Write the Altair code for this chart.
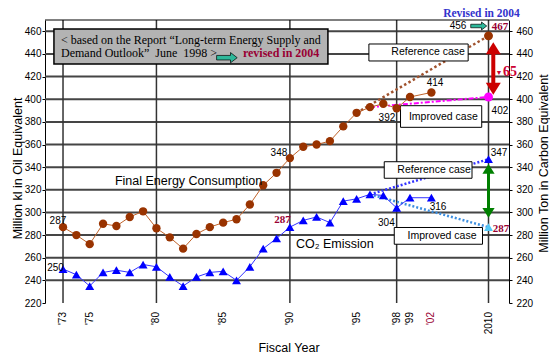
import altair as alt
import pandas as pd

# ---------------- data ----------------
hist_years = list(range(1973, 2000)) + [2002]
fec_values = [287, 280, 272, 290, 288, 296, 301, 286, 278, 268, 281, 287, 291, 294,
              307, 324, 335, 348, 358, 360, 363, 376, 388, 393, 396, 392, 402, 406]
co2_values = [250, 245, 235, 247, 249, 247, 254, 252, 243, 235, 243, 247, 248, 240,
              252, 268, 277, 287, 293, 296, 291, 310, 312, 316, 315, 304, 313, 313]

proj_series = ["fec_ref", "fec_imp", "co2_ref", "co2_imp"]
proj_start_year = [1995, 1996, 1996, 1996]
proj_start_value = [388, 393, 316, 316]
proj_end_year = 2010
proj_end_value = [456, 402, 347, 287]

grid_values = [240, 260, 280, 300, 320, 340, 360, 380, 400, 420, 440, 460]
vgrid_years = [1973, 1980, 1990, 1998, 2010]
y_ticks = [220, 240, 260, 280, 300, 320, 340, 360, 380, 400, 420, 440, 460]
tick_years = [1973, 1975, 1980, 1985, 1990, 1995, 1998, 1999, 2002, 2010]
tick_labels = ["'73", "'75", "'80", "'85", "'90", "'95", "'98", "'99", "'02", "2010"]
tick_colors = ["black"] * 8 + ["#990033", "black"]

# annotation anchors in data coordinates (year, value)
num_text = ["287", "250", "348", "392", "414", "402", "347", "304", "316", "456"]
num_year = [1972.62, 1972.44, 1989.18, 1997.27, 2002.5, 2011.6, 2011.47, 1997.23, 2002.92, 2005.73]
num_value = [292.7, 250.9, 352.2, 383.2, 414.1, 389.9, 352.2, 290.4, 305.0, 464.7]

red_text = ["287", "287", "467"]
red_year = [1989.44, 2011.76, 2011.6]
red_value = [293.3, 285.0, 464.2]

case_text = ["Reference case", "Improved case", "Reference case", "Improved case"]
case_x1 = [1995.92, 1998.29, 1997.07, 1997.82]
case_x2 = [2007.15, 2009.05, 2007.69, 2009.16]
case_v1 = [433.8, 375.2, 330.2, 271.9]
case_v2 = [448.8, 394.3, 344.8, 286.7]

# ---------------- tables ----------------
fec_df = pd.DataFrame({"year": hist_years, "value": fec_values})
co2_df = pd.DataFrame({"year": hist_years, "value": co2_values})
proj_rows = []
for s, y0, v0, v1 in zip(proj_series, proj_start_year, proj_start_value, proj_end_value):
    proj_rows.append({"series": s, "year": y0, "value": v0})
    proj_rows.append({"series": s, "year": proj_end_year, "value": v1})
proj_df = pd.DataFrame(proj_rows)
end_df = pd.DataFrame({
    "year": [proj_end_year] * 4,
    "value": proj_end_value,
    "shape": ["circle", "circle", "triangle-up", "triangle-up"],
    "col": ["#993300", "#ff00ff", "#0000ff", "#55c8f5"],
})
tick_df = pd.DataFrame({"year": tick_years, "label": tick_labels, "col": tick_colors})

xs = alt.Scale(domain=[1971.65, 1999, 2010, 2012.87], range=[0, 365, 443.5, 464],
               nice=False, zero=False)
ys = alt.Scale(domain=[220, 470], nice=False, zero=False)

SANS = "Liberation Sans"
SERIF = "Liberation Serif"


def X(f):
    return alt.X(f, type="quantitative", scale=xs, axis=None)


def Y(f):
    return alt.Y(f, type="quantitative", scale=ys, axis=None)


x_axis = alt.Axis(values=tick_years, labels=False, ticks=False, grid=False,
                  domainColor="black", domainDash=[1, 1], title=None)

left_axis = alt.Axis(values=y_ticks, orient="left", tickSize=3, labelPadding=1,
                     labelFont=SANS, labelFontSize=10, grid=False, domainColor="black",
                     tickColor="black", title="Million kl in Oil Equivalent",
                     titleFont=SANS, titleFontSize=12.5, titleFontWeight="normal",
                     titleAngle=270, titleX=-28, titleY=148, titleAlign="center",
                     titleBaseline="middle")

right_axis = alt.Axis(values=y_ticks, orient="right", tickSize=3, labelPadding=4,
                      labelFont=SANS, labelFontSize=10, grid=False, domainColor="black",
                      tickColor="black", title="Million Ton in Carbon Equivalent",
                      titleFont=SANS, titleFontSize=12.5, titleFontWeight="normal",
                      titleAngle=270, titleX=34, titleY=143, titleAlign="center",
                      titleBaseline="middle")

layers = []

# grid
layers.append(alt.Chart(pd.DataFrame({"v": grid_values})).mark_rule(
    color="#454545", strokeWidth=2).encode(y=Y("v")))
layers.append(alt.Chart(pd.DataFrame({"yr": vgrid_years})).mark_rule(
    color="#333333", strokeWidth=1.5).encode(x=X("yr")))
layers.append(alt.Chart(pd.DataFrame({"a": [0]})).mark_rule(
    color="black", strokeWidth=1).encode(y=alt.value(0)))

# projection lines
proj_style = {
    "fec_ref": dict(color="#a0522d", strokeWidth=2.5, strokeDash=[2.5, 2.5]),
    "fec_imp": dict(color="#ff00ff", strokeWidth=2, strokeDash=[5, 2, 2, 2]),
    "co2_ref": dict(color="#3333ff", strokeWidth=2.5, strokeDash=[2, 2]),
    "co2_imp": dict(color="#3d8fe0", strokeWidth=2.5, strokeDash=[2, 2]),
}
for s in proj_series:
    layers.append(alt.Chart(proj_df[proj_df.series == s]).mark_line(**proj_style[s]).encode(
        x=X("year"), y=Y("value")))

# annotation boxes
layers.append(alt.Chart(pd.DataFrame({"x1": [1972.32], "x2": [1992.85], "v1": [431.1], "v2": [462.05]}))
              .mark_rect(fill="#b3b3b3", stroke="black", strokeWidth=1.5)
              .encode(x=X("x1"), x2="x2", y=Y("v1"), y2="v2"))
case_df = pd.DataFrame({"text": case_text, "x1": case_x1, "x2": case_x2, "v1": case_v1, "v2": case_v2})
case_df["xm"] = (case_df.x1 + case_df.x2) / 2
case_df["vm"] = (case_df.v1 + case_df.v2) / 2
layers.append(alt.Chart(case_df).mark_rect(fill="white", stroke="black", strokeWidth=1)
              .encode(x=X("x1"), x2="x2", y=Y("v1"), y2="v2"))
layers.append(alt.Chart(case_df).mark_text(font=SANS, fontSize=10.5, color="black",
                                           align="center", baseline="middle")
              .encode(x=X("xm"), y=Y("vm"), text="text"))

# historical series
layers.append(alt.Chart(fec_df).mark_line(color="#c0632b", strokeWidth=1).encode(
    x=alt.X("year", type="quantitative", scale=xs, axis=x_axis),
    y=alt.Y("value", type="quantitative", scale=ys, axis=left_axis)))
layers.append(alt.Chart(fec_df).mark_point(shape="circle", filled=True, size=70,
                                           color="#993300", opacity=1).encode(
    x=X("year"), y=Y("value")))
layers.append(alt.Chart(co2_df).mark_line(color="#3333ff", strokeWidth=1).encode(
    x=X("year"),
    y=alt.Y("value", type="quantitative", scale=ys, axis=right_axis)))
layers.append(alt.Chart(co2_df).mark_point(shape="triangle-up", filled=True, size=80,
                                           color="#0000ff", opacity=1).encode(
    x=X("year"), y=Y("value")))

# 2010 outlook points
layers.append(alt.Chart(end_df).mark_point(filled=True, size=80, opacity=1).encode(
    x=X("year"), y=Y("value"),
    shape=alt.Shape("shape:N", scale=None),
    color=alt.Color("col:N", scale=None)))

# arrows
up_head = "M0,-0.8L1,0.8L-1,0.8Z"
down_head = "M0,0.8L1,-0.8L-1,-0.8Z"
block_arrow = "M-1,-0.22L0.35,-0.22L0.35,-0.5L1,0L0.35,0.5L0.35,0.22L-1,0.22Z"

layers.append(alt.Chart(pd.DataFrame({"x": [2010.67], "v1": [446], "v2": [408]}))
              .mark_rule(color="#cc0000", strokeWidth=4).encode(x=X("x"), y=Y("v1"), y2="v2"))
layers.append(alt.Chart(pd.DataFrame({"x": [2010.67], "v": [445.1]}))
              .mark_point(shape=up_head, filled=True, size=225, color="#cc0000", opacity=1)
              .encode(x=X("x"), y=Y("v")))
layers.append(alt.Chart(pd.DataFrame({"x": [2010.67], "v": [409.2]}))
              .mark_point(shape=down_head, filled=True, size=225, color="#cc0000", opacity=1)
              .encode(x=X("x"), y=Y("v")))

layers.append(alt.Chart(pd.DataFrame({"x": [2010.0], "v1": [338], "v2": [300]}))
              .mark_rule(color="#008000", strokeWidth=3).encode(x=X("x"), y=Y("v1"), y2="v2"))
layers.append(alt.Chart(pd.DataFrame({"x": [2010.0], "v": [338.4]}))
              .mark_point(shape=up_head, filled=True, size=150, color="#008000", opacity=1)
              .encode(x=X("x"), y=Y("v")))
layers.append(alt.Chart(pd.DataFrame({"x": [2010.0], "v": [299.6]}))
              .mark_point(shape=down_head, filled=True, size=150, color="#008000", opacity=1)
              .encode(x=X("x"), y=Y("v")))

layers.append(alt.Chart(pd.DataFrame({"x": [1985.28, 2008.63], "v": [436.7, 464.7], "s": [424, 256]}))
              .mark_point(shape=block_arrow, filled=True, fill="#2db89a", stroke="black",
                          strokeWidth=0.7, opacity=1)
              .encode(x=X("x"), y=Y("v"), size=alt.Size("s:Q", scale=None)))

# x tick labels and x title
layers.append(alt.Chart(tick_df).mark_text(font=SANS, fontSize=10, angle=270, align="right",
                                           baseline="middle")
              .encode(x=X("year"), y=alt.value(292), text="label",
                      color=alt.Color("col:N", scale=None)))
layers.append(alt.Chart(pd.DataFrame({"t": ["Fiscal Year"]}))
              .mark_text(font=SANS, fontSize=12.5, color="black", align="center", baseline="middle")
              .encode(x=alt.value(244), y=alt.value(328), text="t"))

# texts
layers.append(alt.Chart(pd.DataFrame({"t": num_text, "x": num_year, "v": num_value}))
              .mark_text(font=SANS, fontSize=10, color="black", align="center", baseline="middle")
              .encode(x=X("x"), y=Y("v"), text="t"))
layers.append(alt.Chart(pd.DataFrame({"t": red_text, "x": red_year, "v": red_value}))
              .mark_text(font=SERIF, fontSize=11, fontWeight="bold", color="#990033",
                         align="center", baseline="middle")
              .encode(x=X("x"), y=Y("v"), text="t"))
layers.append(alt.Chart(pd.DataFrame({"t": ["Final Energy Consumption", "CO\u2082 Emission"],
                                      "x": [1976.89, 1990.45], "v": [327.8, 272.0]}))
              .mark_text(font=SANS, fontSize=12.5, color="black", align="left", baseline="middle")
              .encode(x=X("x"), y=Y("v"), text="t"))
layers.append(alt.Chart(pd.DataFrame({
    "t": ["< based on the Report \u201cLong-term Energy Supply and",
          "Demand Outlook\u201d\u00a0 June\u00a0 1998 >"],
    "x": [1972.85, 1972.85], "v": [452.3, 440.6]}))
    .mark_text(font=SERIF, fontSize=12, color="black", align="left", baseline="middle")
    .encode(x=X("x"), y=Y("v"), text="t"))
layers.append(alt.Chart(pd.DataFrame({"t": ["revised in 2004"], "x": [1986.48], "v": [440.6]}))
              .mark_text(font=SERIF, fontSize=12, fontWeight="bold", color="#990033",
                         align="left", baseline="middle")
              .encode(x=X("x"), y=Y("v"), text="t"))
layers.append(alt.Chart(pd.DataFrame({"t": ["Revised in 2004"], "x": [2009.02], "v": [474.9]}))
              .mark_text(font=SERIF, fontSize=11.5, fontWeight="bold", color="#3333cc",
                         align="center", baseline="middle")
              .encode(x=X("x"), y=Y("v"), text="t"))
layers.append(alt.Chart(pd.DataFrame({"t": ["\u25bc"], "x": [2011.47], "v": [423.5]}))
              .mark_text(font=SANS, fontSize=7, color="#cc0033", align="center", baseline="middle")
              .encode(x=X("x"), y=Y("v"), text="t"))
layers.append(alt.Chart(pd.DataFrame({"t": ["65"], "x": [2013.0], "v": [424.1]}))
              .mark_text(font=SERIF, fontSize=14, fontWeight="bold", color="#cc0033",
                         align="center", baseline="middle")
              .encode(x=X("x"), y=Y("v"), text="t"))

chart = (alt.layer(*layers)
         .resolve_scale(y="independent")
         .properties(width=464, height=283,
                     autosize=alt.AutoSizeParams(type="none"),
                     padding={"left": 37, "top": 12, "right": 41, "bottom": 55},
                     background="white")
         .configure_view(stroke=None)
         .configure_axis(labelColor="black", titleColor="black"))

chart.save("out.html", embed_options={"renderer": "svg", "actions": False})
